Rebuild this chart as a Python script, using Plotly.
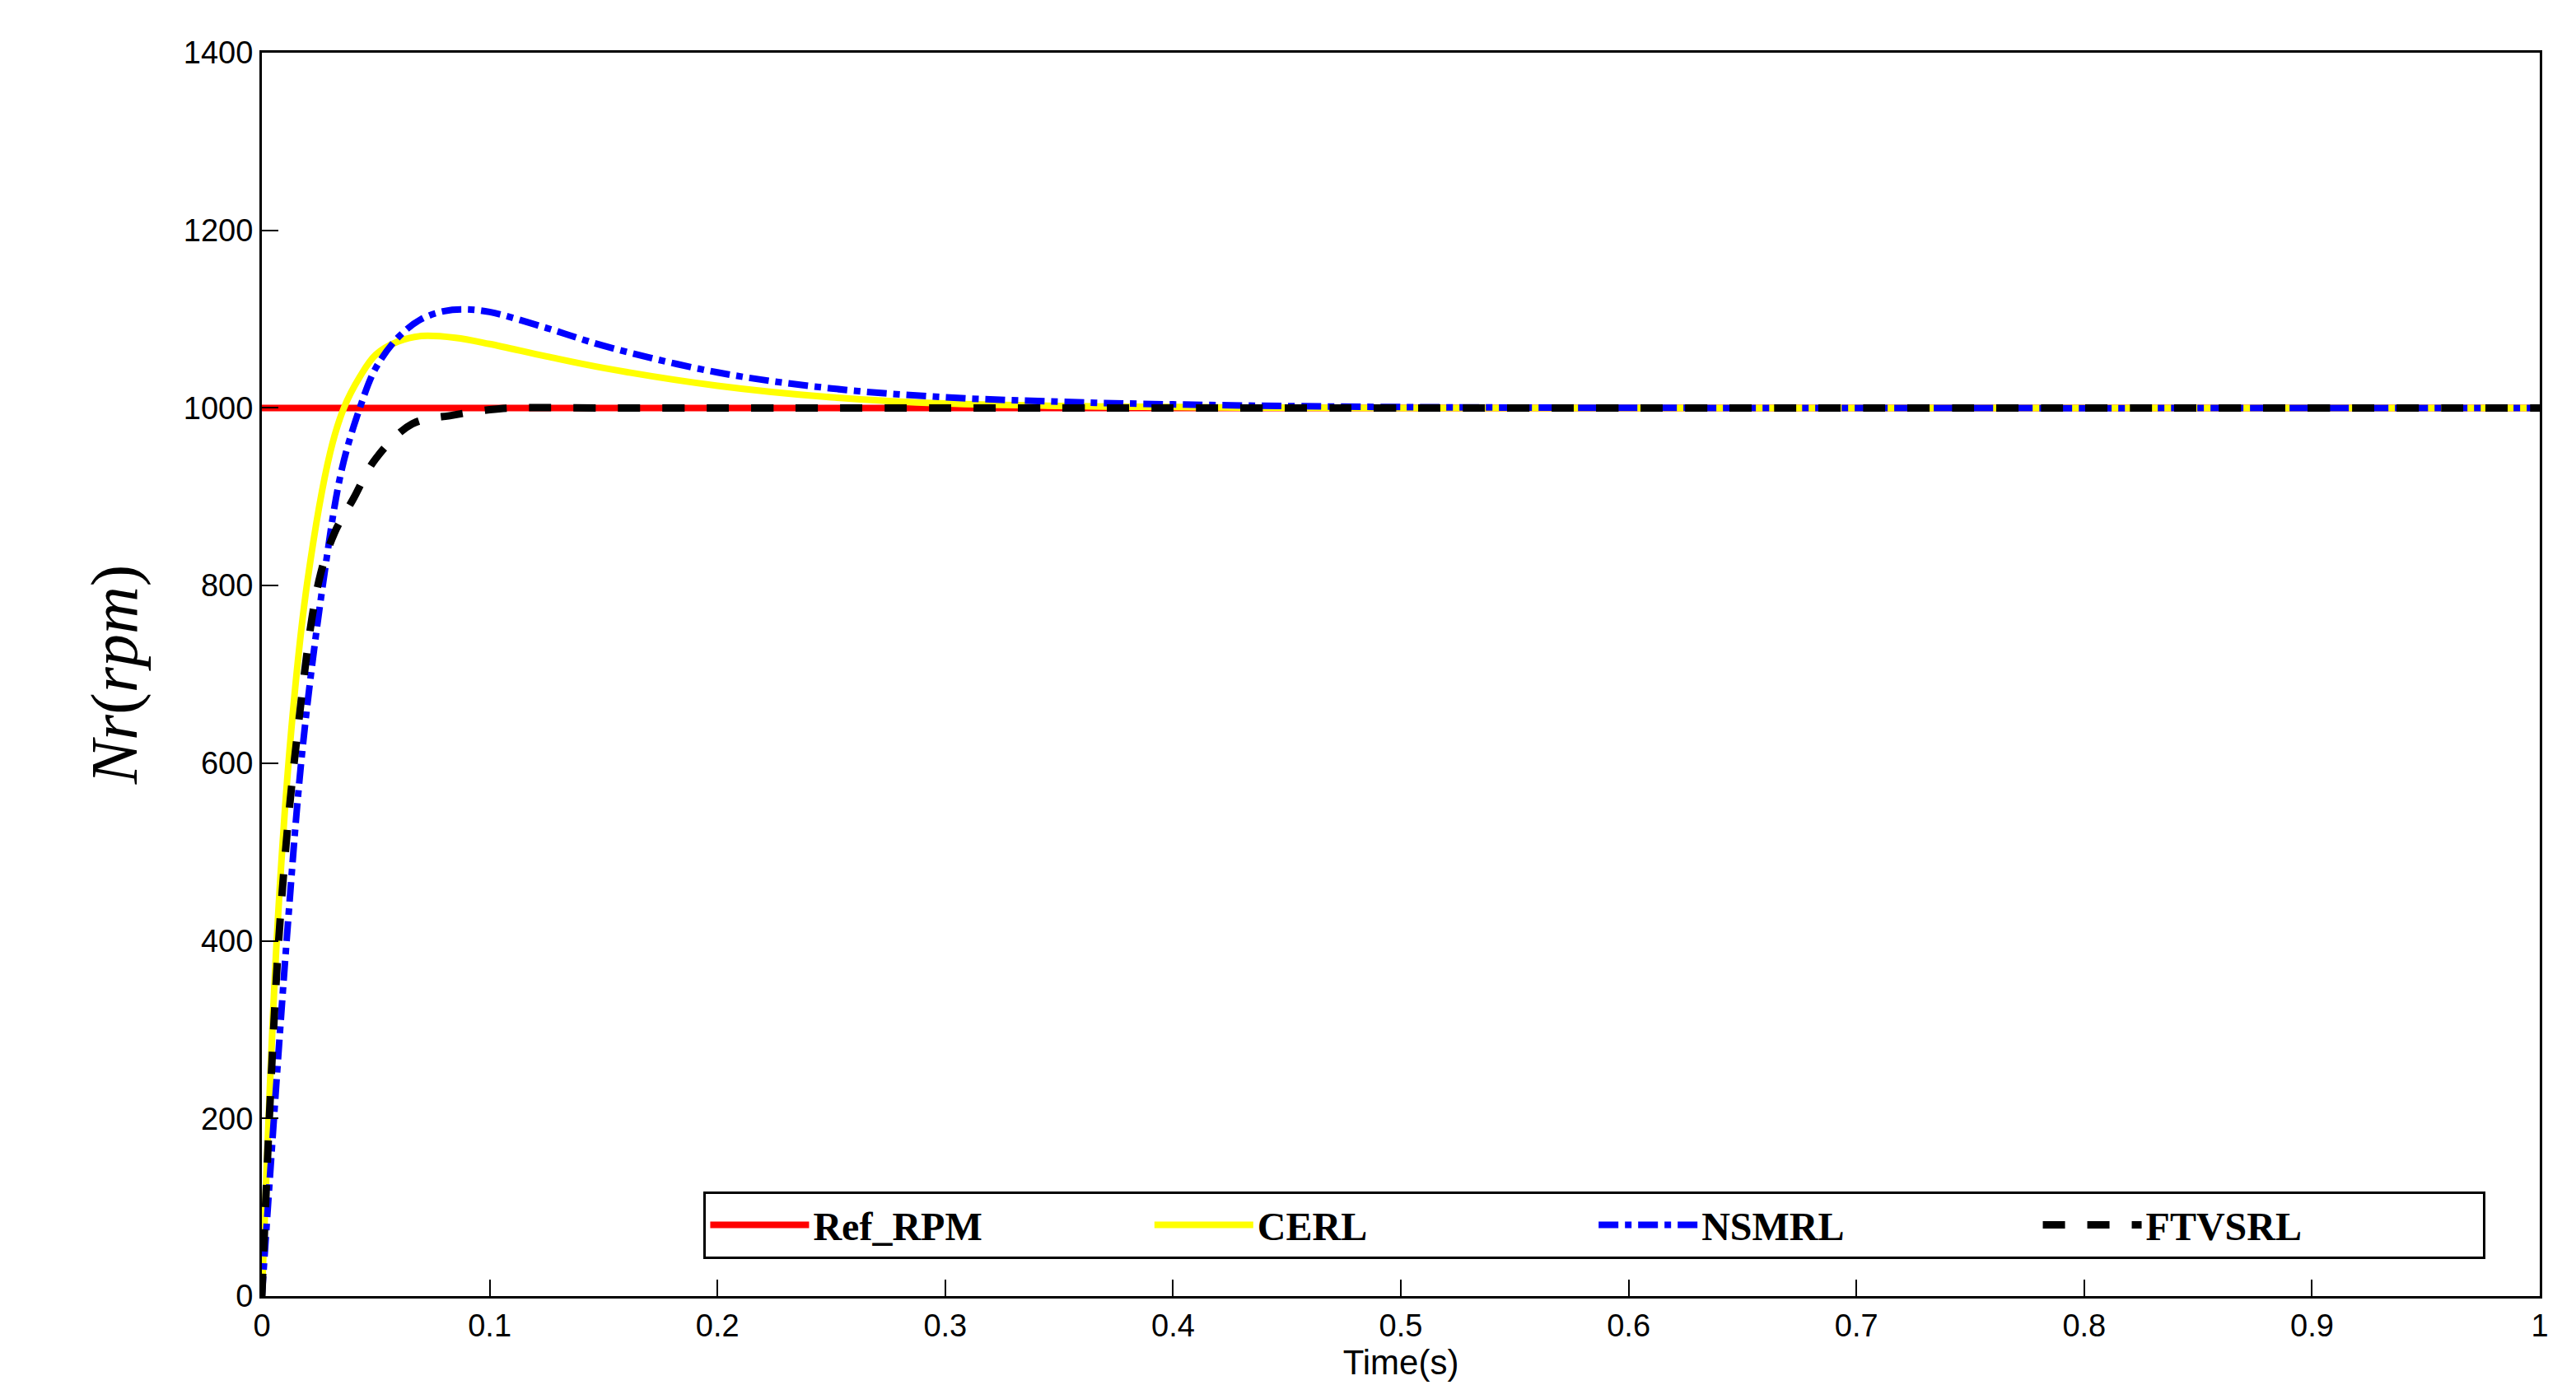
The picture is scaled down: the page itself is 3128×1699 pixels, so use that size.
import plotly.graph_objects as go

t_ref = [0, 1]
ref = [1000, 1000]

t_cerl = [0, 0.0066, 0.013, 0.02, 0.03, 0.036, 0.043, 0.05, 0.06, 0.07, 0.085, 0.1, 0.125, 0.15, 0.2, 0.25, 0.3, 0.4, 0.5, 1.0]
cerl = [0, 405, 640, 805, 950, 1000, 1035, 1060, 1075, 1081, 1079, 1072, 1058, 1045, 1025, 1012, 1005, 1001, 1000, 1000]

t_nsmrl = [0, 0.011, 0.018, 0.027, 0.035, 0.043, 0.05, 0.06, 0.07, 0.08, 0.0886, 0.1, 0.125, 0.15, 0.2, 0.25, 0.3, 0.35, 0.4, 0.5, 1.0]
nsmrl = [0, 405, 620, 805, 930, 1000, 1045, 1080, 1100, 1109, 1111, 1108, 1090, 1070, 1040, 1022, 1012, 1007, 1004, 1001, 1000]

t_ftvsrl = [0, 0.0075, 0.015, 0.025, 0.032, 0.04, 0.05, 0.066, 0.084, 0.1, 0.11, 0.15, 1.0]
ftvsrl = [0, 405, 620, 805, 860, 897, 943, 982, 992, 998, 1000, 1000, 1000]

fig = go.Figure()
fig.add_trace(go.Scatter(x=t_ref, y=ref, mode="lines", name="<b>Ref_RPM</b>", line=dict(color="#ff0000", width=8)))
fig.add_trace(go.Scatter(x=t_cerl, y=cerl, mode="lines", name="<b>CERL</b>", line=dict(color="#ffff00", width=8, shape="spline")))
fig.add_trace(go.Scatter(x=t_nsmrl, y=nsmrl, mode="lines", name="<b>NSMRL</b>", line=dict(color="#0000ff", width=8, dash="dashdot", shape="spline")))
fig.add_trace(go.Scatter(x=t_ftvsrl, y=ftvsrl, mode="lines", name="<b>FTVSRL</b>", line=dict(color="#000000", width=9, dash="dash", shape="spline")))

axis_common = dict(showgrid=False, zeroline=False, showline=True, linecolor="black", linewidth=3,
                   mirror=True, ticks="inside", ticklen=20, tickwidth=2, tickcolor="black",
                   tickfont=dict(family="Liberation Sans, Arial", size=38, color="black"))
fig.update_layout(
    width=3128, height=1699,
    margin=dict(l=310, r=52, t=56, b=133),
    plot_bgcolor="white", paper_bgcolor="white",
    xaxis=dict(range=[0, 1], dtick=0.1, title=dict(text="Time(s)", font=dict(family="Liberation Sans, Arial", size=42, color="black"), standoff=6), **axis_common),
    yaxis=dict(range=[0, 1400], dtick=200, title=dict(text="<i>Nr</i>(<i>rpm</i>)", font=dict(family="Liberation Serif, Times New Roman", size=80, color="black"), standoff=30), **axis_common),
    legend=dict(orientation="h", x=0.9763, xanchor="right", y=0.03, yanchor="bottom",
                bordercolor="black", borderwidth=3, bgcolor="white",
                font=dict(family="Liberation Serif, Times New Roman", size=48, color="black"),
                itemwidth=120, entrywidthmode="fraction", entrywidth=0.195),
    showlegend=True,
)
fig.write_html("out.html")
